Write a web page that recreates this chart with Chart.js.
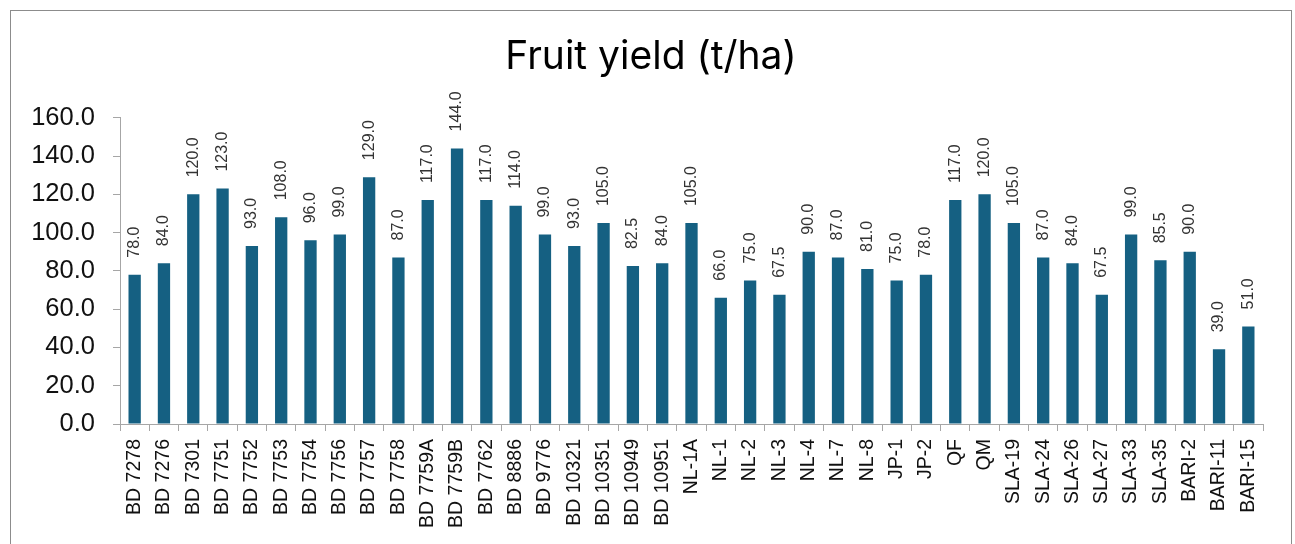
<!DOCTYPE html>
<html>
<head>
<meta charset="utf-8">
<script src="https://cdn.jsdelivr.net/npm/chart.js@4"></script>
<style>
  body { margin: 0; background: #fff; overflow: hidden; }
  #frame { position: absolute; left: 10px; top: 10px; width: 1280px; height: 560px; border: 1px solid #8c8c8c; }
  #yieldChart { position: absolute; left: 0; top: 0; }
</style>
</head>
<body>
<div id="frame"><canvas id="yieldChart" width="1280" height="533"></canvas></div>
<script>
const genotypes = ['BD 7278', 'BD 7276', 'BD 7301', 'BD 7751', 'BD 7752', 'BD 7753', 'BD 7754', 'BD 7756',
    'BD 7757', 'BD 7758', 'BD 7759A', 'BD 7759B', 'BD 7762', 'BD 8886', 'BD 9776', 'BD 10321', 'BD 10351',
    'BD 10949', 'BD 10951', 'NL-1A', 'NL-1', 'NL-2', 'NL-3', 'NL-4', 'NL-7', 'NL-8', 'JP-1', 'JP-2', 'QF', 'QM',
    'SLA-19', 'SLA-24', 'SLA-26', 'SLA-27', 'SLA-33', 'SLA-35', 'BARI-2', 'BARI-11', 'BARI-15'];
const fruitYield = [78.0, 84.0, 120.0, 123.0, 93.0, 108.0, 96.0, 99.0, 129.0, 87.0, 117.0, 144.0, 117.0, 114.0,
    99.0, 93.0, 105.0, 82.5, 84.0, 105.0, 66.0, 75.0, 67.5, 90.0, 87.0, 81.0, 75.0, 78.0, 117.0, 120.0,
    105.0, 87.0, 84.0, 67.5, 99.0, 85.5, 90.0, 39.0, 51.0];
const yTicks = [0, 20, 40, 60, 80, 100, 120, 140, 160];

// value labels above each bar, turned to read upwards
const barLabels = {
    id: 'barLabels',
    afterDatasetsDraw(chart) {
        const c = chart.ctx;
        const meta = chart.getDatasetMeta(0);
        c.save();
        c.font = '16px "Liberation Sans", Arial, sans-serif';
        c.fillStyle = '#333';
        c.textAlign = 'left';
        c.textBaseline = 'middle';
        meta.data.forEach((bar, i) => {
            c.save();
            c.translate(bar.x, bar.y - 17);
            c.rotate(-Math.PI / 2);
            c.fillText(fruitYield[i].toFixed(1), 0, 0);
            c.restore();
        });
        c.restore();
    }
};

const ctx = document.getElementById('yieldChart').getContext('2d');
const yieldChart = new Chart(ctx, {
    type: 'bar',
    data: {
        labels: genotypes,
        datasets: [{
            data: fruitYield,
            backgroundColor: '#156082',
            barPercentage: 0.42,
            categoryPercentage: 1.0
        }]
    },
    options: {
        responsive: false,
        animation: false,
        layout: { padding: 0 },
        plugins: {
            legend: { display: false },
            tooltip: { enabled: false },
            title: {
                display: true,
                text: 'Fruit yield (t/ha)',
                color: '#000',
                font: { family: 'Inter, "Liberation Sans", sans-serif', size: 39, weight: 'normal' },
                padding: { top: 23, bottom: 37 }
            }
        },
        scales: {
            x: {
                grid: { drawOnChartArea: false, tickLength: 7, color: '#a6a6a6' },
                border: { color: '#a6a6a6' },
                ticks: {
                    minRotation: 90, maxRotation: 90, autoSkip: false, padding: 8,
                    color: '#111',
                    font: { family: '"Liberation Sans", Arial, sans-serif', size: 19.5 }
                },
                afterFit(scale) { scale.height = 120; }
            },
            y: {
                min: 0,
                max: 160,
                afterBuildTicks(scale) { scale.ticks = yTicks.map(v => ({ value: v })); },
                grid: { drawOnChartArea: false, tickLength: 7, color: '#a6a6a6' },
                border: { color: '#a6a6a6' },
                ticks: {
                    padding: 18,
                    color: '#111',
                    font: { family: '"Liberation Sans", Arial, sans-serif', size: 25.5 },
                    callback: v => Number(v).toFixed(1)
                },
                afterFit(scale) { scale.width = 109; }
            },
            // empty right-hand axis: only keeps space so the title stays centred on the frame
            spacer: {
                type: 'linear',
                position: 'right',
                grid: { display: false },
                border: { display: false },
                ticks: { display: false },
                afterFit(scale) { scale.width = 28; }
            }
        }
    },
    plugins: [barLabels]
});
</script>
</body>
</html>
